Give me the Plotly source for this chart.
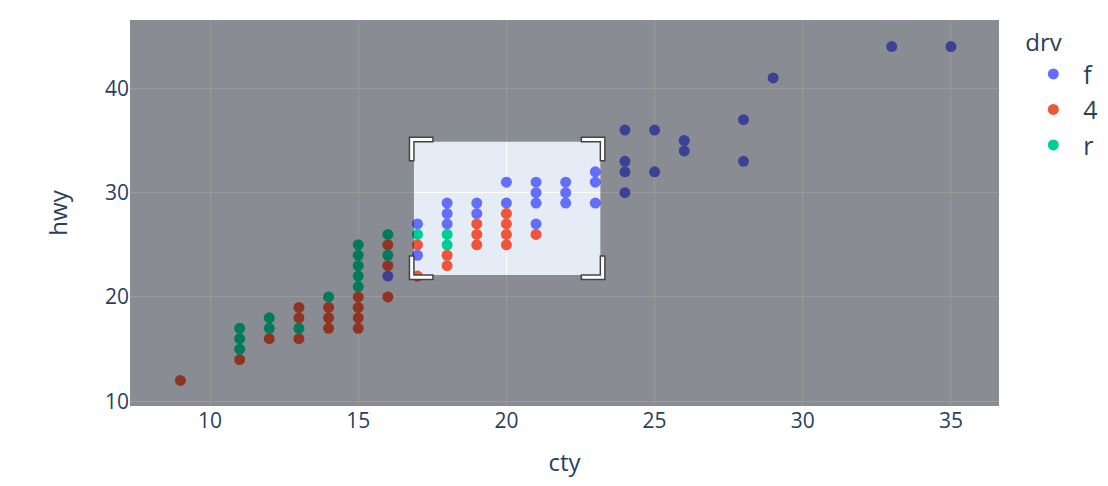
import plotly.graph_objects as go

# cty / hwy, one pair of lists per drive type
f_cty = [16, 17, 17, 18, 18, 18, 19, 19, 20, 20, 21, 21, 21, 21, 22, 22, 22,
         23, 23, 23, 24, 24, 24, 24, 25, 25, 26, 26, 28, 28, 29, 33, 35]
f_hwy = [22, 27, 24, 29, 28, 27, 29, 28, 31, 29, 31, 30, 29, 27, 31, 30, 29,
         32, 31, 29, 36, 33, 32, 30, 36, 32, 35, 34, 37, 33, 41, 44, 44]

d4_cty = [9, 11, 12, 13, 13, 13, 14, 14, 14, 15, 15, 15, 15, 16, 16, 16,
          17, 17, 18, 18, 19, 19, 19, 20, 20, 20, 20, 21]
d4_hwy = [12, 14, 16, 19, 18, 16, 19, 18, 17, 20, 19, 18, 17, 25, 23, 20,
          25, 22, 24, 23, 27, 26, 25, 28, 27, 26, 25, 26]

r_cty = [11, 11, 11, 12, 12, 13, 14, 15, 15, 15, 15, 15, 16, 16, 17, 18, 18]
r_hwy = [17, 16, 15, 18, 17, 17, 20, 25, 24, 23, 22, 21, 26, 24, 26, 26, 25]

groups = [('f', f_cty, f_hwy, '#636efa'),
          ('4', d4_cty, d4_hwy, '#EF553B'),
          ('r', r_cty, r_hwy, '#00cc96')]

# zoom box being dragged (data units)
box_x = [16.88, 23.17]
box_y = [22.1, 34.88]
x_range = [7.3, 36.62]
y_range = [9.55, 46.55]

fig = go.Figure()
for name, xs, ys, col in groups:
    fig.add_trace(go.Scatter(x=xs, y=ys, mode='markers', name=name,
                             marker=dict(color=col, size=11)))

# dim everything outside the box (path with a hole)
xa, xb = x_range
ya, yb = y_range
bx0, bx1 = box_x
by0, by1 = box_y
dim_path = (f'M{xa},{ya} L{xb},{ya} L{xb},{yb} L{xa},{yb} Z '
            f'M{bx0},{by0} L{bx0},{by1} L{bx1},{by1} L{bx1},{by0} Z')
shapes = [dict(type='path', path=dim_path, xref='x', yref='y', layer='above',
               fillcolor='rgba(0,0,0,0.4)', line=dict(width=0))]

# bracket corners, in pixels around each box corner
c, t = 19, 4.5
corner_pts = {
    (0, 1): [(-t, -c), (0, -c), (0, 0), (c, 0), (c, t), (-t, t)],
    (1, 1): [(t, -c), (0, -c), (0, 0), (-c, 0), (-c, t), (t, t)],
    (0, 0): [(-t, c), (0, c), (0, 0), (c, 0), (c, -t), (-t, -t)],
    (1, 0): [(t, c), (0, c), (0, 0), (-c, 0), (-c, -t), (t, -t)],
}
for (i, j), pts in corner_pts.items():
    p = 'M' + ' L'.join(f'{px},{py}' for px, py in pts) + ' Z'
    shapes.append(dict(type='path', path=p, xref='x', yref='y',
                       xsizemode='pixel', ysizemode='pixel',
                       xanchor=box_x[i], yanchor=box_y[j], layer='above',
                       fillcolor='white', line=dict(color='#444', width=1.5)))

fig.update_layout(
    width=1092, height=470,
    margin=dict(l=122, r=101, t=12, b=72, autoexpand=False),
    font=dict(size=21),
    shapes=shapes,
    legend=dict(title=dict(text='drv', font=dict(size=24)),
                font=dict(size=25), tracegroupgap=0, itemwidth=50,
                x=1.028),
    xaxis=dict(title=dict(text='cty', font=dict(size=24), standoff=27),
               range=x_range, automargin=False),
    yaxis=dict(title=dict(text='hwy', font=dict(size=24), standoff=30),
               range=y_range, dtick=10, automargin=False),
)

fig.write_html('out.html')
print('finished')
